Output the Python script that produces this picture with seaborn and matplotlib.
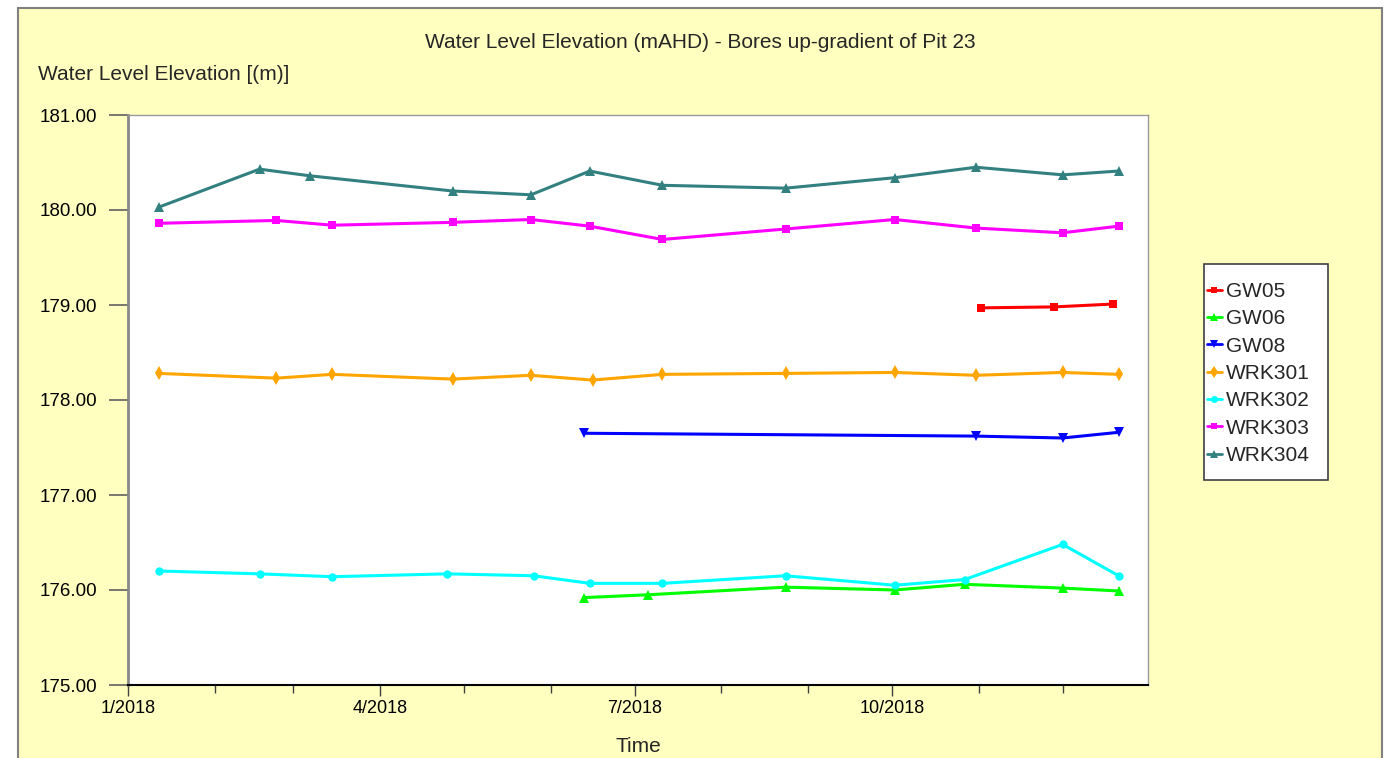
import pandas as pd
import seaborn as sns
import matplotlib.pyplot as plt
import matplotlib.dates as mdates
from matplotlib.patches import Rectangle
from matplotlib.ticker import FuncFormatter
from matplotlib.lines import Line2D

# bores and sample dates / water levels
bores = ['GW05', 'GW06', 'GW08', 'WRK301', 'WRK302', 'WRK303', 'WRK304']

gw05_dates = ['2018-11-02', '2018-11-28', '2018-12-19']
gw05_vals = [178.97, 178.98, 179.01]

gw06_dates = ['2018-06-13', '2018-07-06', '2018-08-24', '2018-10-02', '2018-10-27', '2018-12-01', '2018-12-21']
gw06_vals = [175.92, 175.95, 176.03, 176.00, 176.06, 176.02, 175.99]

gw08_dates = ['2018-06-13', '2018-10-31', '2018-12-01', '2018-12-21']
gw08_vals = [177.65, 177.62, 177.60, 177.66]

wrk301_dates = ['2018-01-12', '2018-02-23', '2018-03-15', '2018-04-27', '2018-05-25', '2018-06-16',
                '2018-07-11', '2018-08-24', '2018-10-02', '2018-10-31', '2018-12-01', '2018-12-21']
wrk301_vals = [178.28, 178.23, 178.27, 178.22, 178.26, 178.21, 178.27, 178.28, 178.29, 178.26, 178.29, 178.27]

wrk302_dates = ['2018-01-12', '2018-02-17', '2018-03-15', '2018-04-25', '2018-05-26', '2018-06-15',
                '2018-07-11', '2018-08-24', '2018-10-02', '2018-10-27', '2018-12-01', '2018-12-21']
wrk302_vals = [176.20, 176.17, 176.14, 176.17, 176.15, 176.07, 176.07, 176.15, 176.05, 176.11, 176.48, 176.15]

wrk303_dates = ['2018-01-12', '2018-02-23', '2018-03-15', '2018-04-27', '2018-05-25', '2018-06-15',
                '2018-07-11', '2018-08-24', '2018-10-02', '2018-10-31', '2018-12-01', '2018-12-21']
wrk303_vals = [179.86, 179.89, 179.84, 179.87, 179.90, 179.83, 179.69, 179.80, 179.90, 179.81, 179.76, 179.83]

wrk304_dates = ['2018-01-12', '2018-02-17', '2018-03-07', '2018-04-27', '2018-05-25', '2018-06-15',
                '2018-07-11', '2018-08-24', '2018-10-02', '2018-10-31', '2018-12-01', '2018-12-21']
wrk304_vals = [180.03, 180.43, 180.36, 180.20, 180.16, 180.41, 180.26, 180.23, 180.34, 180.45, 180.37, 180.41]

series = {
    'GW05': (gw05_dates, gw05_vals),
    'GW06': (gw06_dates, gw06_vals),
    'GW08': (gw08_dates, gw08_vals),
    'WRK301': (wrk301_dates, wrk301_vals),
    'WRK302': (wrk302_dates, wrk302_vals),
    'WRK303': (wrk303_dates, wrk303_vals),
    'WRK304': (wrk304_dates, wrk304_vals),
}

palette = {'GW05': '#FF0000', 'GW06': '#00FF00', 'GW08': '#0000FF', 'WRK301': '#FFA500',
           'WRK302': '#00FFFF', 'WRK303': '#FF00FF', 'WRK304': '#338080'}
markers = {'GW05': 's', 'GW06': '^', 'GW08': 'v', 'WRK301': 'd',
           'WRK302': 'o', 'WRK303': 's', 'WRK304': '^'}
msizes = {'GW05': 6, 'GW06': 7, 'GW08': 7, 'WRK301': 7, 'WRK302': 6, 'WRK303': 6, 'WRK304': 7}

rows = []
for b in bores:
    d, v = series[b]
    for dd, vv in zip(d, v):
        rows.append({'date': pd.Timestamp(dd), 'level': vv, 'bore': b})
df = pd.DataFrame(rows)

sns.set_style('white')
plt.rcParams['font.family'] = ['Liberation Sans', 'DejaVu Sans']

yellow = '#FFFFC0'
fig = plt.figure(figsize=(13.86, 7.58), dpi=100)
fig.patch.set_facecolor('white')
fig.patches.append(Rectangle((18 / 1386, -0.01), (1382 - 18) / 1386, 1 - 8 / 758 + 0.01,
                             transform=fig.transFigure, facecolor=yellow, edgecolor='#808080',
                             linewidth=1.5, zorder=-5))
# legend box
fig.patches.append(Rectangle((1204 / 1386, 1 - 480 / 758), (1328 - 1204) / 1386, (480 - 264) / 758,
                             transform=fig.transFigure, facecolor='white', edgecolor='#404040',
                             linewidth=1.2, zorder=-4))

ax = fig.add_axes([128 / 1386, 1 - 685 / 758, (1148 - 128) / 1386, (685 - 115) / 758])
ax.set_zorder(2)
ax.set_facecolor('white')

for b in bores:
    sub = df[df['bore'] == b]
    sns.lineplot(data=sub, x='date', y='level', color=palette[b], marker=markers[b],
                 markersize=msizes[b], markeredgewidth=0, linewidth=2.2, ax=ax, label=b,
                 estimator=None, legend=False)

ax.set_xlim(pd.Timestamp('2018-01-01'), pd.Timestamp('2018-12-31 12:00'))
ax.set_ylim(175, 181)
ax.set_yticks([175, 176, 177, 178, 179, 180, 181])
ax.yaxis.set_major_formatter(FuncFormatter(lambda v, p: f'{v:.2f}'))
ax.xaxis.set_major_locator(mdates.MonthLocator(bymonth=[1, 4, 7, 10]))
ax.xaxis.set_minor_locator(mdates.MonthLocator())
ax.xaxis.set_major_formatter(FuncFormatter(lambda v, p: f'{mdates.num2date(v).month}/{mdates.num2date(v).year}'))

ax.tick_params(axis='y', which='major', direction='out', length=14, width=1.2, color='#606060',
               labelsize=13.5, pad=8, left=True, labelcolor='black')
ax.tick_params(axis='x', which='major', direction='out', length=8, width=1, color='#404040',
               labelsize=13, pad=3, bottom=True, labelcolor='black')
ax.tick_params(axis='x', which='minor', direction='out', length=6, width=1, color='#404040', bottom=True)

for s in ['top', 'right']:
    ax.spines[s].set_color('#999999')
    ax.spines[s].set_linewidth(1)
ax.spines['left'].set_color('#888888')
ax.spines['left'].set_linewidth(2)
ax.spines['bottom'].set_color('#000000')
ax.spines['bottom'].set_linewidth(1.5)

ax.set_xlabel('Time', fontsize=15, labelpad=14)
ax.set_ylabel('')
fig.text(700 / 1386, 1 - 43 / 758, 'Water Level Elevation (mAHD) - Bores up-gradient of Pit 23',
         ha='center', va='center', fontsize=15)
fig.text(38 / 1386, 1 - 74 / 758, 'Water Level Elevation [(m)]', ha='left', va='center', fontsize=15)

handles = [Line2D([0], [0], color=palette[b], marker=markers[b], markersize=msizes[b] - 1,
                  markeredgewidth=0, linewidth=2) for b in bores]
leg = fig.legend(handles, bores, loc='upper left', bbox_to_anchor=(1207 / 1386, 1 - 282 / 758),
                 frameon=False, fontsize=15, handlelength=0.7, handletextpad=0.2,
                 labelspacing=0.4, borderpad=0, borderaxespad=0)

fig.savefig('out.png', dpi=100)
